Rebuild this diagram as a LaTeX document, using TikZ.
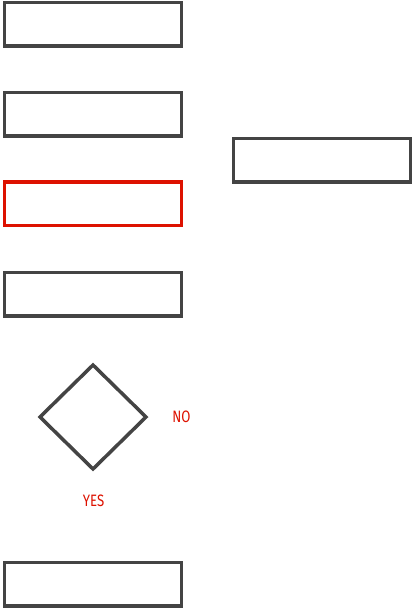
\documentclass[tikz,border=0pt]{standalone}
\usepackage{fontspec}
\setmainfont{Fira Sans}
\usetikzlibrary{shapes.geometric}
\definecolor{boxgray}{HTML}{444444}
\definecolor{lblred}{HTML}{DD1100}
\begin{document}
\begin{tikzpicture}[x=1pt,y=-1pt,
  stepbox/.style={draw=boxgray,line width=3.5pt,minimum width=177pt,minimum height=43.5pt,inner sep=0pt,outer sep=0pt,anchor=north west},
  redbox/.style={stepbox,draw=lblred},
  decision/.style={draw=boxgray,line width=3.5pt,diamond,minimum width=106pt,minimum height=104pt,inner sep=0pt,outer sep=0pt},
  lbl/.style={text=lblred,font=\fontsize{16.5}{16.5}\selectfont,inner sep=0pt}]
\useasboundingbox (0,0) rectangle (413,609);
\node[stepbox] (b1) at (4.5,2.5) {};
\node[stepbox] (b2) at (4.5,92.5) {};
\node[redbox] (b3) at (4.5,182) {};
\node[stepbox] (b4) at (4.5,272.5) {};
\node[stepbox] (b5) at (4.5,562.5) {};
\node[stepbox] (r1) at (233.5,138.5) {};
\node[decision] (d1) at (93,417) {};
\node[lbl] (no) at (181.5,417) {\scalebox{0.8}[1]{NO}};
\node[lbl] (yes) at (93.5,501) {\scalebox{0.8}[1]{YES}};
\end{tikzpicture}
\end{document}
